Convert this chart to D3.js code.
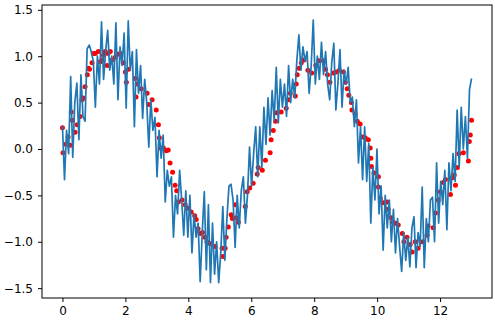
<!DOCTYPE html>
<html>
<head>
<meta charset="utf-8">
<script src="https://cdn.jsdelivr.net/npm/d3@7"></script>
<style>
  html, body { margin: 0; padding: 0; background: #fff; }
  svg { display: block; }
  .tick text { font-family: "DejaVu Sans", sans-serif; font-size: 12px; fill: #000; }
</style>
</head>
<body>
<svg id="chart" width="495" height="326"></svg>
<script>
// Noisy signal: evenly spaced samples from x = 0 to x = 13
const lineStart = 0;
const lineEnd = 13;
const noisyValues = [
  0.25, -0.33, 0.2, -0.05, 0.78, -0.09, 0.5, 0.71, 0.1, 0.8, 0.35, 0.3, 1.08, 1.12, 1.05,
  0.95, 0.45, 1.0, 0.7, 1.37, 0.75, 1.05, 1.28, 0.85, 1.0, 0.7, 1.36, 0.53, 1.1, 0.9,
  1.25, 0.44, 1.38, 0.85, 1.05, 0.24, 1.07, 0.6, 0.9, 0.33, 0.75, 0.5, 0.02, 0.53, 0.2,
  0.34, -0.3, 0.2, -0.1, 0.15, -0.57, -0.23, -0.4, -0.3, -0.95, -0.5, -0.7, -0.23, -0.55, -0.93,
  -0.45, -0.95, -0.5, -1.12, -0.7, -0.95, -0.8, -1.43, -0.9, -0.46, -1.3, -0.6, -1.44, -0.8, -1.35,
  -1.0, -1.44, -1.12, -0.62, -1.2, -0.75, -0.4, -0.38, -0.55, -1.06, -0.5, -0.85, -0.45, -0.3, -0.8,
  -0.5, 0.02, -0.4, -0.05, 0.24, -0.3, 0.24, -0.2, 0.45, 0.05, 0.55, 0.15, 0.63, 0.3, 0.88,
  0.28, 0.75, 0.45, 0.7, 0.35, 0.9, 0.5, 0.75, 0.55, 0.95, 1.23, 0.85, 1.1, 0.95, 1.05,
  0.6, 0.9, 1.39, 0.7, 1.0, 0.75, 1.15, 0.8, 1.05, 0.7, 0.53, 0.93, 1.14, 0.42, 0.71,
  1.07, 0.45, 0.85, 0.7, 0.88, 0.5, 0.56, 0.24, 0.53, -0.15, 0.24, -0.33, 0.24, -0.35, 0.06,
  -0.8, -0.2, -0.55, 0.0, -0.7, -0.4, -1.09, -0.5, -0.85, -0.55, -1.0, -0.65, -1.12, -0.75, -1.05,
  -1.32, -0.9, -1.2, -0.95, -1.27, -0.85, -0.73, -1.28, -0.9, -1.05, -0.41, -1.28, -0.75, -1.0, -0.55,
  -0.52, -1.0, -0.15, -0.8, -0.35, -0.6, -0.23, -0.87, -0.15, -0.45, -0.05, -0.35, 0.42, -0.19, 0.45,
  0.0, 0.35, -0.1, 0.64, 0.76
];

// Smoothed points (red dots)
const dotX = [
  0.0, 0.02, 0.1, 0.18, 0.24, 0.28, 0.31, 0.4, 0.47, 0.56, 0.62, 0.66, 0.72, 0.79, 0.83, 0.86, 0.94, 0.98,
  1.04, 1.14, 1.2, 1.26, 1.3, 1.36, 1.42, 1.45, 1.52, 1.58, 1.68, 1.76, 1.84, 1.93, 2.0, 2.03, 2.1,
  2.31, 2.34, 2.38, 2.5, 2.69, 2.73, 2.85, 2.98, 3.05, 3.08, 3.11, 3.21, 3.3, 3.36, 3.42, 3.5, 3.58,
  3.63, 3.68, 3.8, 3.9, 4.0, 4.09, 4.2, 4.25, 4.31, 4.38, 4.45, 4.53, 4.59, 4.7, 4.85, 5.07, 5.1,
  5.17, 5.2, 5.27, 5.36, 5.4, 5.49, 5.52, 5.59, 5.81, 5.87, 5.95, 6.06, 6.19, 6.22, 6.35, 6.45,
  6.6, 6.63, 6.7, 6.77, 6.8, 6.95, 7.11, 7.18, 7.24, 7.4, 7.43, 7.46, 7.52, 7.59, 7.68, 7.8, 7.92,
  8.05, 8.14, 8.29, 8.36, 8.42, 8.5, 8.61, 8.7, 8.8, 8.93, 8.99, 9.05, 9.1, 9.18, 9.2, 9.3, 9.37,
  9.46, 9.53, 9.62, 9.72, 9.78, 9.8, 9.82, 9.9, 10.04, 10.04, 10.1, 10.19, 10.32, 10.35, 10.45,
  10.51, 10.58, 10.67, 10.8, 10.85, 10.95, 11.05, 11.11, 11.21, 11.3, 11.45, 11.59, 11.62, 11.78,
  11.85, 11.94, 12.01, 12.1, 12.17, 12.33, 12.39, 12.45, 12.49, 12.55, 12.6, 12.74, 12.9, 12.93,
  12.96, 13.0
];
const dotY = [
  0.23, -0.04, 0.05, 0.13, 0.04, 0.4, 0.31, 0.18, 0.26, 0.35, 0.53, 0.55, 0.67, 0.8, 0.87, 0.86, 0.93, 1.03,
  1.03, 1.05, 0.94, 0.96, 1.01, 1.05, 0.9, 1.03, 1.05, 0.96, 0.99, 1.02, 1.03, 0.93, 0.83, 0.72, 0.86,
  0.76, 0.56, 0.7, 0.65, 0.6, 0.48, 0.53, 0.42, 0.26, 0.12, 0.01, 0.01, -0.02, -0.01, -0.15, -0.25, -0.39,
  -0.45, -0.57, -0.55, -0.6, -0.64, -0.68, -0.72, -0.76, -0.86, -0.91, -0.9, -0.95, -1.0, -1.02, -1.05, -1.07, -1.16,
  -1.07, -0.95, -0.84, -0.71, -0.75, -0.6, -0.74, -0.79, -0.62, -0.46, -0.42, -0.37, -0.27, -0.2, -0.23, -0.12,
  -0.04, 0.1, 0.2, 0.3, 0.39, 0.4, 0.44, 0.53, 0.6, 0.57, 0.7, 0.8, 0.87, 0.93, 0.96, 0.85, 0.82,
  0.9, 0.95, 0.95, 0.86, 0.8, 0.72, 0.82, 0.83, 0.85, 0.83, 0.72, 0.65, 0.58, 0.5, 0.42, 0.38, 0.3,
  0.27, 0.13, 0.12, 0.1, 0.01, -0.1, -0.19, -0.26, -0.3, -0.41, -0.53, -0.58, -0.57, -0.65, -0.74,
  -0.79, -0.8, -0.82, -0.91, -1.0, -0.95, -1.03, -1.11, -1.0, -1.07, -1.0, -0.93, -0.83, -0.85,
  -0.69, -0.55, -0.46, -0.36, -0.33, -0.49, -0.31, -0.28, -0.39, -0.2, -0.05, -0.04, -0.13, 0.08,
  0.15, 0.31
];

const xTicks = [0, 2, 4, 6, 8, 10, 12];
const yTicks = [-1.5, -1.0, -0.5, 0.0, 0.5, 1.0, 1.5];

const svg = d3.select("#chart");
const plot = { left: 42, right: 492, top: 5, bottom: 298 };

const x = d3.scaleLinear().domain([-0.65, 13.65]).range([plot.left, plot.right]);
const y = d3.scaleLinear().domain([-1.606, 1.552]).range([plot.bottom, plot.top]);

const lineX = d3.scaleLinear().domain([0, noisyValues.length - 1]).range([lineStart, lineEnd]);

// red dots (drawn first, under the line)
svg.append("g").selectAll("circle")
  .data(dotX.map((v, i) => [v, dotY[i]]))
  .join("circle")
  .attr("cx", d => x(d[0]))
  .attr("cy", d => y(d[1]))
  .attr("r", 2.5)
  .attr("fill", "#ff0000");

// noisy line
svg.append("path")
  .datum(noisyValues)
  .attr("fill", "none")
  .attr("stroke", "#1f77b4")
  .attr("stroke-width", 1.7)
  .attr("stroke-linejoin", "round")
  .attr("d", d3.line().x((d, i) => x(lineX(i))).y(d => y(d)));

// axes
const xAxis = d3.axisBottom(x).tickValues(xTicks).tickFormat(d3.format("d")).tickSize(4).tickPadding(4);
const yAxis = d3.axisLeft(y).tickValues(yTicks).tickFormat(d3.format(".1f")).tickSize(4).tickPadding(5);

const gx = svg.append("g").attr("transform", `translate(0,${plot.bottom})`).call(xAxis);
const gy = svg.append("g").attr("transform", `translate(${plot.left},0)`).call(yAxis);
[gx, gy].forEach(g => {
  g.select(".domain").remove();
  g.selectAll(".tick line").attr("stroke", "#000").attr("stroke-width", 1);
});

// frame (spines)
svg.append("rect")
  .attr("x", plot.left)
  .attr("y", plot.top)
  .attr("width", plot.right - plot.left)
  .attr("height", plot.bottom - plot.top)
  .attr("fill", "none")
  .attr("stroke", "#000")
  .attr("stroke-width", 1);
</script>
</body>
</html>
